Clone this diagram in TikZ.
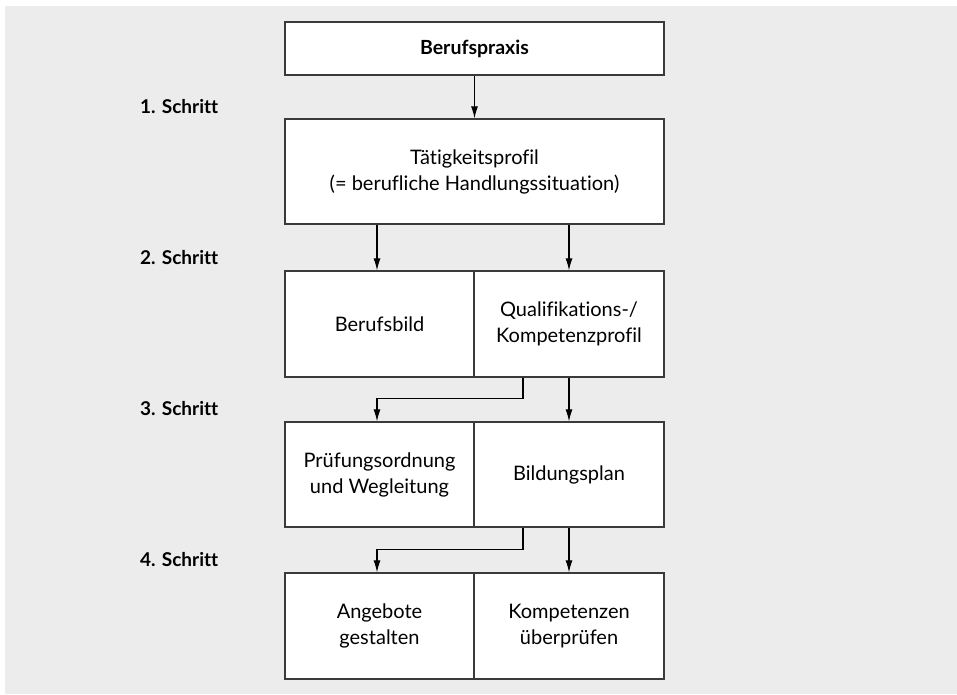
\documentclass[tikz,border=0pt]{standalone}
\usepackage{fontspec}
\setmainfont{Lato}[Ligatures=NoCommon]
\usetikzlibrary{arrows.meta}
\definecolor{bggray}{HTML}{ECECEC}
\definecolor{boxline}{HTML}{3A3A3A}
\begin{document}
\begin{tikzpicture}[x=1pt,y=-1pt,
  box/.style={draw=boxline,line width=1.3pt,fill=white,align=center,inner sep=0pt,
    font=\fontsize{20}{26}\selectfont},
  steplabel/.style={anchor=west,inner sep=0pt,font=\fontsize{19}{23}\selectfont\bfseries},
  arr/.style={line width=1.1pt,-{Latex[length=12pt,width=7pt]}}]
\useasboundingbox (0,0) rectangle (957,694);
\fill[white] (0,0) rectangle (957,694);
\fill[bggray] (5,6) rectangle (957,694);
% boxes
\node[box,minimum width=379pt,minimum height=53pt,font=\fontsize{19.5}{23}\selectfont\bfseries] (praxis) at (474.5,48.5) {Berufspraxis};
\node[box,minimum width=379pt,minimum height=105pt] (taetig) at (474.5,171.5) {Tätigkeitsprofil\\(= berufliche Handlungssituation)};
\node[box,minimum width=189pt,minimum height=106pt] (b2l) at (379.5,324) {Berufsbild};
\node[box,minimum width=190pt,minimum height=106pt] (b2r) at (569,324) {Qualifikations-/\\Kompetenzprofil};
\node[box,minimum width=189pt,minimum height=105pt] (b3l) at (379.5,474.5) {Prüfungsordnung\\und Wegleitung};
\node[box,minimum width=190pt,minimum height=105pt] (b3r) at (569,474.5) {Bildungsplan};
\node[box,minimum width=189pt,minimum height=106pt] (b4l) at (379.5,626) {Angebote\\gestalten};
\node[box,minimum width=190pt,minimum height=106pt] (b4r) at (569,626) {Kompetenzen\\überprüfen};
% step labels
\node[steplabel] (s1) at (140,107) {1. Schritt};
\node[steplabel] (s2) at (140,258) {2. Schritt};
\node[steplabel] (s3) at (140,409) {3. Schritt};
\node[steplabel] (s4) at (140,560) {4. Schritt};
% arrows
\draw[arr] (praxis.south) -- (taetig.north);
\draw[arr] ([xshift=-2.5pt]taetig.south -| b2l.north) -- ([xshift=-2.5pt]b2l.north);
\draw[arr] (taetig.south -| b2r.north) -- (b2r.north);
\draw[arr] ([xshift=-46pt]b2r.south) -- ++(0,21) -| ([xshift=-2.5pt]b3l.north);
\draw[arr] (b2r.south) -- (b3r.north);
\draw[arr] ([xshift=-46pt]b3r.south) -- ++(0,22) -| ([xshift=-2.5pt]b4l.north);
\draw[arr] (b3r.south) -- (b4r.north);
\end{tikzpicture}
\end{document}
